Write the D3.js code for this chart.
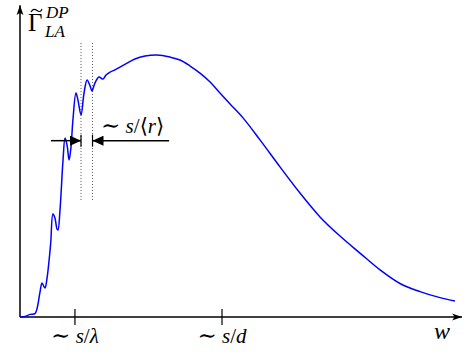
<!DOCTYPE html>
<html>
<head>
<meta charset="utf-8">
<script src="https://cdn.jsdelivr.net/npm/d3@7"></script>
<style>
  html, body { margin: 0; padding: 0; background: #fff; }
  svg { display: block; }
  text { font-family: "Liberation Serif", "DejaVu Serif", serif; fill: #000; }
</style>
</head>
<body>
<svg id="chart" width="464" height="354"></svg>
<script>
// Frequency w (in units of s/d) and the normalised rate Γ̃_LA^DP
const wValues = [0, 0.025, 0.050, 0.074, 0.084, 0.099, 0.109, 0.119, 0.124, 0.134,
  0.149, 0.153, 0.163, 0.173, 0.183, 0.188, 0.198, 0.213, 0.223, 0.233,
  0.243, 0.252, 0.262, 0.277, 0.287, 0.302, 0.317, 0.332, 0.347, 0.356,
  0.371, 0.391, 0.411, 0.426, 0.446, 0.470, 0.495, 0.530, 0.569, 0.619,
  0.678, 0.743, 0.792, 0.842, 0.891, 0.941, 0.990, 1.040, 1.104, 1.188,
  1.287, 1.386, 1.485, 1.584, 1.683, 1.782, 1.881, 1.980, 2.079, 2.153];
const gammaValues = [0, 0.002, 0.010, 0.013, 0.031, 0.095, 0.130, 0.115, 0.111, 0.149,
  0.256, 0.294, 0.393, 0.378, 0.336, 0.332, 0.408, 0.599, 0.683, 0.656,
  0.599, 0.645, 0.752, 0.855, 0.828, 0.771, 0.855, 0.905, 0.882, 0.863,
  0.893, 0.916, 0.908, 0.924, 0.935, 0.943, 0.954, 0.969, 0.985, 0.996,
  1.000, 0.992, 0.981, 0.958, 0.931, 0.897, 0.855, 0.813, 0.760, 0.676,
  0.573, 0.473, 0.382, 0.309, 0.244, 0.180, 0.128, 0.097, 0.074, 0.061];

// Characteristic frequencies marked on the w axis
const tickValues = [0.272, 1.0];
const tickLabels = [["∼", "s", "/", "λ"], ["∼", "s", "/", "d"]];

// Spacing of the oscillation maxima, ~ s/<r>
const spacingMarks = [0.302, 0.359];
const spacingArrowY = 0.673;
const guideRange = [0.445, 1.046];
const arrowSpan = [0.153, 0.738];

const svg = d3.select("#chart");
const x = d3.scaleLinear().domain([0, 2.188]).range([20, 462]);
const y = d3.scaleLinear().domain([0, 1]).range([317, 55]);

const defs = svg.append("defs");
defs.append("marker")
  .attr("id", "axisHead")
  .attr("viewBox", "0 0 10 10")
  .attr("refX", 10).attr("refY", 5)
  .attr("markerWidth", 10).attr("markerHeight", 10)
  .attr("markerUnits", "userSpaceOnUse")
  .attr("orient", "auto")
  .append("path")
  .attr("d", "M0,1.5 Q4,5 0,8.5 L10,5 Z")
  .attr("fill", "#000");
defs.append("marker")
  .attr("id", "dimHead")
  .attr("viewBox", "0 0 11 10")
  .attr("refX", 11).attr("refY", 5)
  .attr("markerWidth", 11).attr("markerHeight", 10)
  .attr("markerUnits", "userSpaceOnUse")
  .attr("orient", "auto")
  .append("path")
  .attr("d", "M0,0 L11,5 L0,10 Z")
  .attr("fill", "#000");

// Axes
svg.append("line")
  .attr("x1", x(0)).attr("y1", y(0))
  .attr("x2", x(2.188)).attr("y2", y(0))
  .attr("stroke", "#000").attr("stroke-width", 1.5)
  .attr("marker-end", "url(#axisHead)");
svg.append("line")
  .attr("x1", x(0)).attr("y1", y(0))
  .attr("x2", x(0)).attr("y2", y(1.19))
  .attr("stroke", "#000").attr("stroke-width", 1.5)
  .attr("marker-end", "url(#axisHead)");

// Writes a math expression: each part is [text, font-style]
function mathText(sel, parts, size) {
  parts.forEach(([t, st]) => {
    const ts = sel.append("tspan").attr("font-style", st).text(t);
    if (t === "∼") {
      ts.attr("font-size", size * 1.1).attr("font-weight", 300);
      sel.append("tspan").text(" ");
    }
  });
}

// Ticks and their labels
const ticks = svg.append("g");
tickValues.forEach((t, i) => {
  ticks.append("line")
    .attr("x1", x(t)).attr("x2", x(t))
    .attr("y1", y(0) - 8).attr("y2", y(0) + 8)
    .attr("stroke", "#000").attr("stroke-width", 1.2);
  const lbl = ticks.append("text")
    .attr("x", x(t)).attr("y", 343)
    .attr("text-anchor", "middle")
    .attr("font-size", 21);
  mathText(lbl, tickLabels[i].map((p, k) => [p, k % 2 === 1 ? "italic" : "normal"]), 21);
});

svg.append("text")
  .attr("x", 442).attr("y", 339)
  .attr("text-anchor", "middle")
  .attr("font-size", 24)
  .attr("font-style", "italic")
  .text("w");

// Dotted guides at neighbouring maxima
spacingMarks.forEach(m => {
  svg.append("line")
    .attr("x1", x(m)).attr("x2", x(m))
    .attr("y1", y(guideRange[1])).attr("y2", y(guideRange[0]))
    .attr("stroke", "#555").attr("stroke-width", 1)
    .attr("stroke-dasharray", "1,2");
});

// The rate curve
const pts = wValues.map((w, i) => [w, gammaValues[i]]);
svg.append("path")
  .datum(pts)
  .attr("fill", "none")
  .attr("stroke", "#0000ff")
  .attr("stroke-width", 1.5)
  .attr("d", d3.line()
    .x(d => x(d[0])).y(d => y(d[1]))
    .curve(d3.curveCatmullRom.alpha(0.5)));

// Dimension arrows pointing at the two guides
const ay = y(spacingArrowY);
svg.append("line")
  .attr("x1", x(arrowSpan[0])).attr("y1", ay)
  .attr("x2", x(spacingMarks[0])).attr("y2", ay)
  .attr("stroke", "#000").attr("stroke-width", 1.5)
  .attr("marker-end", "url(#dimHead)");
svg.append("line")
  .attr("x1", x(arrowSpan[1])).attr("y1", ay)
  .attr("x2", x(spacingMarks[1])).attr("y2", ay)
  .attr("stroke", "#000").attr("stroke-width", 1.5)
  .attr("marker-end", "url(#dimHead)");
spacingMarks.forEach(m => {
  svg.append("line")
    .attr("x1", x(m)).attr("x2", x(m))
    .attr("y1", ay - 6).attr("y2", ay + 6)
    .attr("stroke", "#000").attr("stroke-width", 1.2);
});

const sl = svg.append("text")
  .attr("x", 101).attr("y", 133)
  .attr("font-size", 21);
mathText(sl, [["∼", "normal"], ["s", "italic"], ["/", "normal"], ["⟨", "normal"], ["r", "italic"], ["⟩", "normal"]], 21);

// Vertical axis label: Γ with a tilde accent, DP above and LA below
const yl = svg.append("g");
yl.append("text").attr("x", 28).attr("y", 31).attr("font-size", 25).text("Γ");
yl.append("path")
  .attr("d", "M31,12 C33,8.5 35,9 37,10.5 C39,12 41,12 42,9")
  .attr("fill", "none").attr("stroke", "#000").attr("stroke-width", 1.1);
yl.append("text").attr("x", 46).attr("y", 18).attr("font-size", 17)
  .attr("font-style", "italic").text("DP");
yl.append("text").attr("x", 45).attr("y", 37).attr("font-size", 17)
  .attr("font-style", "italic").text("LA");
</script>
</body>
</html>
